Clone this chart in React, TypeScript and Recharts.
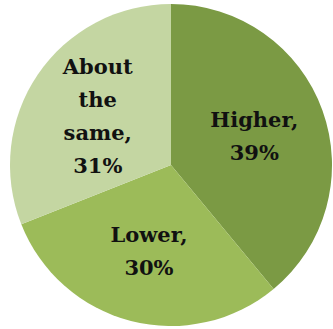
import React from 'react';
import { PieChart, Pie, Cell } from 'recharts';

const categories = ['Higher', 'Lower', 'About the same'];
const shares = [39, 30, 31];
const labelLines = [['Higher,', '39%'], ['Lower,', '30%'], ['About', 'the', 'same,', '31%']];
const colors = ['#7b9a44', '#9cbb59', '#c4d6a2'];

const data = categories.map((name, i) => ({ name, value: shares[i] }));

const RADIAN = Math.PI / 180;

const renderLabel = (props: any) => {
  const { cx, cy, midAngle, outerRadius, index } = props;
  const r = outerRadius * 0.55;
  const x = cx + r * Math.cos(-midAngle * RADIAN);
  const y = cy + r * Math.sin(-midAngle * RADIAN);
  const lines = labelLines[index];
  const lineHeight = 33;
  // baseline of first line, block centred on (x, y)
  const top = y - ((lines.length - 1) * lineHeight) / 2 + 8;
  return (
    <text
      key={`label-${index}`}
      x={x}
      y={top}
      textAnchor="middle"
      fill="#111"
      fontFamily="DejaVu Serif"
      fontWeight="bold"
      fontSize={21}
    >
      {lines.map((line, i) => (
        <tspan key={i} x={x} y={top + i * lineHeight} fontFamily="DejaVu Serif">
          {line}
        </tspan>
      ))}
    </text>
  );
};

const App: React.FC = () => {
  return (
    <div style={{ position: 'absolute', left: 0, top: 0, width: 333, height: 329, background: '#fff' }}>
      <PieChart width={333} height={329} margin={{ top: 0, right: 0, bottom: 0, left: 0 }}>
        <Pie
          data={data}
          dataKey="value"
          nameKey="name"
          cx={171}
          cy={165}
          outerRadius={161}
          startAngle={90}
          endAngle={-270}
          stroke="none"
          label={renderLabel}
          labelLine={false}
          isAnimationActive={false}
        >
          {data.map((entry, index) => (
            <Cell key={entry.name} fill={colors[index]} />
          ))}
        </Pie>
      </PieChart>
    </div>
  );
};

export default App;
